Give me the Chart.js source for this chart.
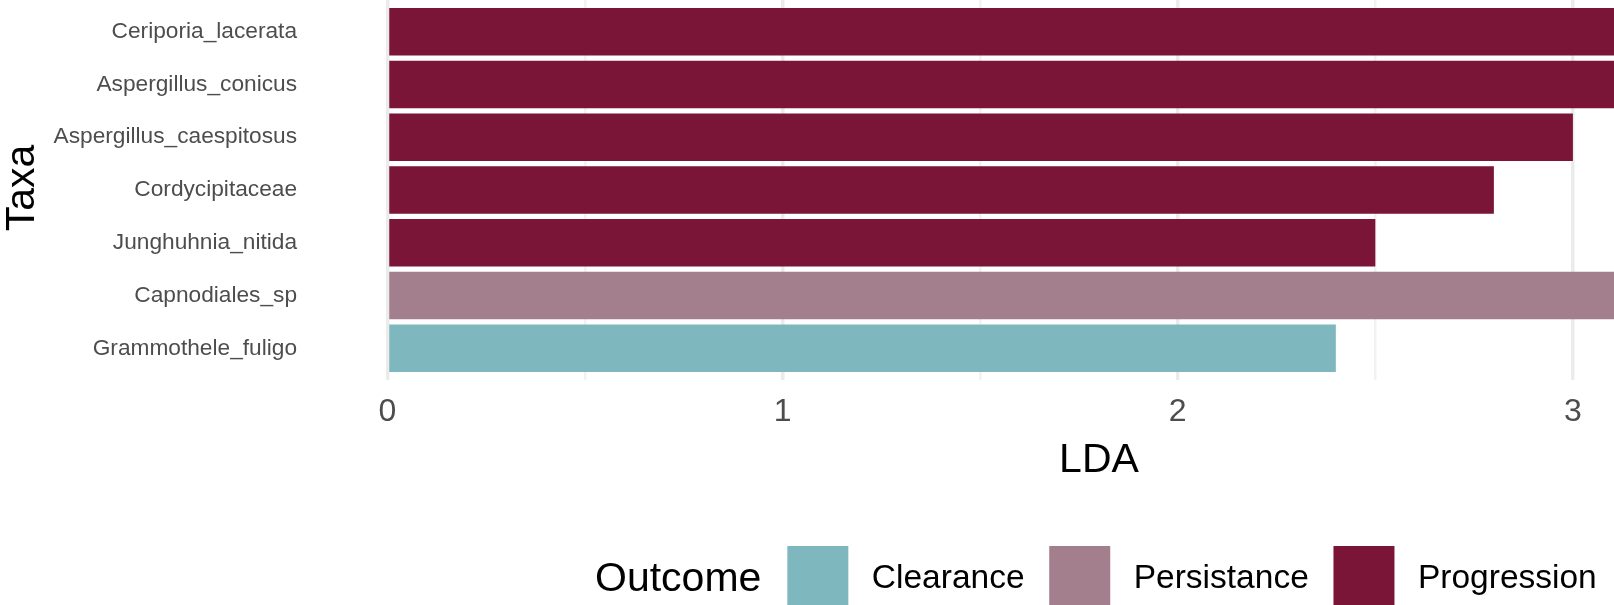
<!DOCTYPE html>
<html><head><meta charset="utf-8">
<script src="https://cdn.jsdelivr.net/npm/chart.js@4/dist/chart.umd.min.js"></script>
<style>html,body{margin:0;padding:0;background:#fff;overflow:hidden}#wrap{width:1614px;height:605px;position:relative}</style>
</head><body><div id="wrap"><canvas id="c" width="1614" height="605"></canvas></div>
<script>
const taxa = ["Ceriporia_lacerata","Aspergillus_conicus","Aspergillus_caespitosus","Cordycipitaceae","Junghuhnia_nitida","Capnodiales_sp","Grammothele_fuligo"];
const lda = [3.6, 3.35, 3.0, 2.8, 2.5, 3.45, 2.4];
const outcome = ["Progression","Progression","Progression","Progression","Progression","Persistance","Clearance"];
const outcomeLevels = ["Clearance","Persistance","Progression"];
const outcomeColors = ["#7FB7BF","#A37F8D","#7B1537"];
const xTicks = [0, 0.5, 1, 1.5, 2, 2.5, 3];
const xTitle = "LDA";
const yTitle = "Taxa";
const legendTitle = "Outcome";

const FONT = "'Liberation Sans', Arial, Helvetica, sans-serif";

const datasets = outcomeLevels.map((lv, k) => ({
  label: lv,
  backgroundColor: outcomeColors[k],
  borderWidth: 0,
  barPercentage: 0.9,
  categoryPercentage: 1.0,
  data: taxa.map((t, i) => outcome[i] === lv ? {x: lda[i], y: i} : null).filter(Boolean)
}));

const noPad = s => { s.paddingTop = 0; s.paddingBottom = 0; s.paddingLeft = 0; s.paddingRight = 0; };

const decor = {
  id: 'decor',
  afterDraw(chart) {
    const ctx = chart.ctx;
    ctx.save();
    ctx.fillStyle = '#000';
    ctx.font = "41px " + FONT;
    ctx.textAlign = 'center';
    ctx.textBaseline = 'alphabetic';
    ctx.fillText(xTitle, 1099, 472);
    ctx.save();
    ctx.translate(33.5, 188);
    ctx.rotate(-Math.PI / 2);
    ctx.fillText(yTitle, 0, 0);
    ctx.restore();
    ctx.textAlign = 'left';
    let x = 595;
    ctx.font = "41px " + FONT;
    ctx.fillText(legendTitle, x, 591);
    x += ctx.measureText(legendTitle).width + 26;
    ctx.font = "33.5px " + FONT;
    outcomeLevels.forEach((lv, k) => {
      ctx.fillStyle = outcomeColors[k];
      ctx.fillRect(x, 546, 61, 61);
      x += 61 + 23.5;
      ctx.fillStyle = '#000';
      ctx.fillText(lv, x, 587.5);
      x += ctx.measureText(lv).width + 24.7;
    });
    ctx.restore();
  }
};

new Chart(document.getElementById('c'), {
  type: 'bar',
  data: { datasets },
  options: {
    indexAxis: 'y',
    responsive: false,
    animation: false,
    devicePixelRatio: 1,
    layout: { padding: 0 },
    plugins: { legend: { display: false }, tooltip: { enabled: false } },
    scales: {
      x: {
        type: 'linear', min: 0, max: 3.104, stacked: true, offset: false,
        afterBuildTicks: s => { s.ticks = xTicks.map(v => ({value: v})); },
        afterFit: s => { s.height = 225; noPad(s); },
        ticks: {
          callback: v => Number.isInteger(v) ? String(v) : '',
          font: { family: FONT, size: 32 }, color: '#4D4D4D',
          padding: 12.5, maxRotation: 0, autoSkip: false
        },
        grid: {
          drawTicks: false, offset: false,
          color: c => (c.tick && Number.isInteger(c.tick.value)) ? '#EBEBEB' : '#F2F2F2',
          lineWidth: c => (c.tick && Number.isInteger(c.tick.value)) ? 3.5 : 2.5
        },
        border: { display: false }
      },
      y: {
        type: 'linear', min: -0.6, max: 6.6, reverse: true, stacked: true, offset: false,
        afterBuildTicks: s => { s.ticks = taxa.map((_, i) => ({value: i})); },
        afterFit: s => { s.width = 387.5; noPad(s); },
        ticks: {
          callback: v => taxa[v] ?? '',
          font: { family: FONT, size: 22.7 }, color: '#4D4D4D',
          padding: 90.5, autoSkip: false
        },
        grid: { display: false, drawTicks: false, offset: false },
        border: { display: false }
      }
    }
  },
  plugins: [decor]
});
</script></body></html>
